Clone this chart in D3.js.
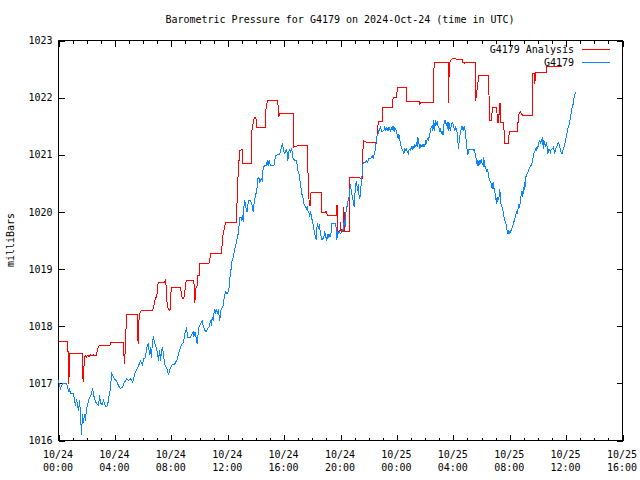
<!DOCTYPE html>
<html>
<head>
<meta charset="utf-8">
<script src="https://cdn.jsdelivr.net/npm/d3@7"></script>
<style>
  html, body { margin: 0; padding: 0; background: #fff; }
  svg { display: block; }
  text { font-family: "DejaVu Sans Mono", "Liberation Mono", monospace; font-size: 10px; fill: #000; }
</style>
</head>
<body>
<svg id="chart" width="640" height="480"></svg>
<script>
// ---------------- data ----------------
const titleText = "Barometric Pressure for G4179 on 2024-Oct-24 (time in UTC)";
const yLabel = "milliBars";
const seriesNames = ["G4179 Analysis", "G4179"];
const seriesColors = ["#ff0000", "#0a84ff"];
const yTicks = [1016, 1017, 1018, 1019, 1020, 1021, 1022, 1023];
const xMajorHours = [0, 4, 8, 12, 16, 20, 24, 28, 32, 36, 40];
const xDateLabels = ["10/24","10/24","10/24","10/24","10/24","10/24","10/25","10/25","10/25","10/25","10/25"];
const xTimeLabels = ["00:00","04:00","08:00","12:00","16:00","20:00","00:00","04:00","08:00","12:00","16:00"];

// hours since 2024-10-24 00:00 UTC, pressure in mb
const analysis = [
[0.00,1017.73],[0.67,1017.73],[0.68,1017.37],[0.72,1016.99],[0.78,1017.28],[0.80,1017.53],[1.68,1017.53],[1.70,1017.28],
[1.75,1017.02],[1.79,1017.22],[1.84,1017.43],[1.89,1017.49],[1.99,1017.46],[2.06,1017.49],[2.18,1017.47],[2.27,1017.50],
[2.39,1017.48],[2.50,1017.50],[2.69,1017.48],[2.73,1017.54],[2.76,1017.60],[2.88,1017.66],[3.64,1017.66],[3.69,1017.71],
[4.58,1017.71],[4.63,1017.55],[4.68,1017.34],[4.73,1017.57],[4.78,1017.92],[4.84,1018.20],[5.58,1018.20],[5.61,1017.92],
[5.65,1017.69],[5.70,1018.05],[5.73,1018.20],[5.85,1018.27],[6.64,1018.27],[6.75,1018.33],[6.82,1018.45],[6.93,1018.51],
[7.00,1018.57],[7.05,1018.74],[7.12,1018.77],[7.52,1018.77],[7.59,1018.80],[7.66,1018.65],[7.71,1018.33],[7.82,1018.30],
[7.89,1018.27],[7.94,1018.29],[7.99,1018.68],[8.66,1018.68],[8.71,1018.57],[8.78,1018.49],[8.89,1018.49],[8.94,1018.57],
[9.06,1018.80],[9.60,1018.80],[9.64,1018.57],[9.67,1018.40],[9.71,1018.57],[9.76,1018.68],[9.83,1018.71],[9.88,1018.89],
[9.97,1018.89],[10.02,1019.09],[10.66,1019.09],[10.73,1019.15],[10.78,1019.28],[11.56,1019.28],[11.61,1019.44],[11.68,1019.62],
[11.72,1019.65],[11.79,1019.76],[11.86,1019.82],[12.62,1019.82],[12.67,1020.23],[12.75,1020.72],[12.82,1020.96],[12.86,1021.08],
[13.03,1021.09],[13.05,1020.85],[13.66,1020.85],[13.69,1021.37],[13.83,1021.60],[13.90,1021.66],[14.00,1021.66],[14.04,1021.48],
[14.68,1021.48],[14.70,1021.77],[14.82,1021.95],[15.55,1021.95],[15.60,1021.72],[15.62,1021.66],[15.67,1021.72],[16.65,1021.72],
[16.67,1021.13],[16.96,1021.16],[17.65,1021.16],[17.69,1020.72],[17.74,1020.35],[17.79,1020.11],[17.84,1020.11],[17.88,1020.33],
[18.02,1020.34],[18.63,1020.34],[18.65,1019.99],[18.94,1019.99],[18.97,1020.02],[19.08,1019.94],[19.69,1019.94],[19.71,1020.11],
[19.78,1020.11],[19.82,1019.65],[19.96,1019.65],[20.00,1019.82],[20.05,1019.65],[20.19,1019.65],[20.24,1020.08],[20.29,1019.65],
[20.62,1019.65],[20.64,1020.61],[21.53,1020.59],[21.58,1020.90],[21.61,1021.25],[21.71,1021.23],[21.85,1021.22],[22.46,1021.22],
[22.51,1021.18],[22.58,1021.22],[22.60,1021.45],[22.70,1021.58],[22.96,1021.59],[23.00,1021.83],[23.66,1021.83],[23.68,1021.92],
[23.75,1022.00],[23.99,1022.00],[24.02,1022.17],[24.66,1022.17],[24.68,1021.93],[25.60,1021.93],[25.62,1021.89],[25.68,1021.91],
[26.57,1021.91],[26.59,1022.42],[26.67,1022.61],[27.63,1022.61],[27.65,1021.90],[27.69,1022.30],[27.72,1022.61],[27.91,1022.68],
[28.63,1022.67],[28.67,1022.62],[28.79,1022.60],[28.86,1022.62],[29.57,1022.62],[29.59,1021.95],[29.66,1022.10],[29.71,1022.18],
[29.80,1022.39],[30.52,1022.39],[30.54,1021.83],[30.60,1021.60],[30.73,1021.60],[30.76,1021.83],[31.08,1021.83],[31.13,1021.57],
[31.23,1021.57],[31.26,1021.89],[31.35,1021.89],[31.37,1021.57],[31.58,1021.57],[31.63,1021.19],[31.89,1021.19],[31.91,1021.28],
[31.99,1021.40],[32.55,1021.40],[32.62,1021.69],[32.76,1021.75],[32.91,1021.69],[33.60,1021.69],[33.62,1022.42],[33.74,1022.42],
[33.78,1022.24],[33.83,1022.44],[34.61,1022.44],[34.63,1022.55],[35.72,1022.55]
];

const observed = [
[0.00,1017.05],[0.07,1016.98],[0.14,1016.91],[0.21,1016.95],[0.28,1017.00],[0.56,1017.00],[0.63,1016.95],[0.71,1016.87],
[0.78,1016.90],[0.85,1016.82],[1.07,1016.82],[1.14,1016.70],[1.21,1016.61],[1.28,1016.73],[1.35,1016.61],[1.42,1016.52],
[1.49,1016.70],[1.56,1016.49],[1.63,1016.09],[1.70,1016.47],[1.77,1016.30],[1.84,1016.47],[1.91,1016.35],[1.99,1016.56],
[2.06,1016.61],[2.13,1016.70],[2.20,1016.75],[2.27,1016.77],[2.34,1016.82],[2.41,1016.91],[2.48,1016.82],[2.55,1016.73],
[2.69,1016.65],[2.84,1016.61],[2.91,1016.79],[2.98,1016.65],[3.12,1016.63],[3.19,1016.70],[3.34,1016.59],[3.48,1016.61],
[3.55,1016.73],[3.62,1016.84],[3.69,1016.91],[3.76,1017.19],[3.83,1017.14],[3.90,1017.12],[3.97,1017.07],[4.11,1017.05],
[4.25,1016.96],[4.39,1016.91],[4.54,1016.93],[4.61,1016.98],[4.68,1017.02],[4.83,1017.08],[4.97,1017.05],[5.11,1017.08],
[5.25,1017.02],[5.32,1017.05],[5.39,1017.17],[5.53,1017.23],[5.67,1017.30],[5.81,1017.40],[5.96,1017.33],[6.03,1017.43],
[6.17,1017.45],[6.24,1017.61],[6.38,1017.71],[6.45,1017.49],[6.52,1017.63],[6.59,1017.45],[6.67,1017.75],[6.74,1017.80],
[6.81,1017.71],[6.88,1017.66],[7.02,1017.54],[7.09,1017.40],[7.17,1017.58],[7.24,1017.40],[7.31,1017.58],[7.38,1017.63],
[7.45,1017.49],[7.52,1017.35],[7.66,1017.26],[7.73,1017.23],[7.80,1017.14],[7.87,1017.23],[7.94,1017.26],[8.08,1017.33],
[8.22,1017.33],[8.29,1017.36],[8.44,1017.43],[8.51,1017.52],[8.59,1017.59],[8.73,1017.68],[8.87,1017.71],[8.94,1017.84],
[9.01,1017.92],[9.08,1017.96],[9.17,1017.81],[9.36,1017.81],[9.55,1017.90],[9.60,1017.81],[9.67,1017.90],[9.76,1017.81],
[9.83,1017.69],[9.88,1017.81],[9.95,1017.98],[10.02,1018.01],[10.12,1018.07],[10.19,1018.10],[10.26,1018.01],[10.30,1017.98],
[10.43,1017.90],[10.50,1017.90],[10.55,1017.95],[10.66,1017.98],[10.73,1018.04],[10.78,1018.10],[10.85,1018.01],[10.90,1018.16],
[10.97,1018.10],[11.02,1018.22],[11.09,1018.30],[11.14,1018.22],[11.21,1018.30],[11.26,1018.22],[11.33,1018.27],[11.37,1018.22],
[11.44,1018.10],[11.49,1018.25],[11.56,1018.30],[11.61,1018.33],[11.68,1018.36],[11.72,1018.45],[11.79,1018.54],[11.86,1018.60],
[11.96,1018.57],[12.03,1018.60],[12.10,1018.68],[12.14,1018.80],[12.19,1018.94],[12.24,1019.00],[12.31,1019.15],[12.39,1019.21],
[12.44,1019.27],[12.51,1019.35],[12.56,1019.41],[12.63,1019.47],[12.68,1019.56],[12.75,1019.62],[12.79,1019.73],[12.82,1019.79],
[12.86,1019.90],[12.96,1019.90],[13.00,1019.85],[13.05,1019.94],[13.10,1019.82],[13.14,1020.05],[13.19,1020.20],[13.26,1020.14],
[13.31,1020.05],[13.38,1020.00],[13.42,1020.11],[13.50,1020.20],[13.62,1020.20],[13.73,1020.11],[13.81,1020.00],[13.85,1020.11],
[13.90,1020.20],[13.97,1020.29],[14.04,1020.35],[14.09,1020.43],[14.16,1020.61],[14.24,1020.58],[14.28,1020.52],[14.37,1020.58],
[14.45,1020.55],[14.52,1020.78],[14.63,1020.81],[14.75,1020.81],[14.80,1020.90],[14.87,1020.81],[14.94,1020.90],[15.04,1020.81],
[15.27,1020.81],[15.34,1020.90],[15.41,1020.99],[15.51,1021.00],[15.65,1021.00],[15.74,1021.05],[15.81,1021.13],[15.88,1021.21],
[15.93,1021.13],[15.97,1021.08],[16.02,1021.02],[16.10,1021.05],[16.17,1021.10],[16.22,1021.02],[16.27,1020.90],[16.32,1021.02],
[16.37,1021.10],[16.44,1021.05],[16.51,1021.10],[16.58,1021.05],[16.65,1020.91],[16.72,1020.91],[16.81,1020.90],[16.88,1020.90],
[16.93,1020.81],[16.97,1020.72],[17.04,1020.70],[17.09,1020.61],[17.16,1020.49],[17.21,1020.40],[17.28,1020.29],[17.35,1020.23],
[17.40,1020.14],[17.47,1020.11],[17.52,1020.08],[17.59,1020.05],[17.64,1020.11],[17.68,1020.02],[17.75,1020.00],[17.82,1019.92],
[17.87,1019.99],[17.94,1019.94],[17.99,1019.85],[18.07,1019.76],[18.11,1019.70],[18.16,1019.62],[18.23,1019.56],[18.28,1019.51],
[18.32,1019.70],[18.37,1019.80],[18.42,1019.73],[18.46,1019.70],[18.51,1019.79],[18.56,1019.65],[18.63,1019.56],[18.70,1019.51],
[18.82,1019.56],[18.87,1019.67],[18.94,1019.59],[19.01,1019.51],[19.06,1019.53],[19.10,1019.62],[19.17,1019.56],[19.24,1019.60],
[19.29,1019.56],[19.34,1019.65],[19.38,1019.80],[19.64,1019.80],[19.69,1019.73],[19.71,1019.51],[19.76,1019.56],[19.80,1019.65],
[19.88,1019.62],[19.93,1019.65],[20.00,1019.62],[20.12,1019.65],[20.19,1019.70],[20.24,1019.79],[20.29,1019.85],[20.34,1019.73],
[20.38,1019.97],[20.43,1020.11],[20.48,1020.08],[20.55,1020.23],[20.62,1020.26],[20.66,1020.37],[20.71,1020.49],[20.76,1020.37],
[20.80,1020.32],[20.85,1020.23],[20.90,1020.20],[20.97,1020.08],[21.01,1020.23],[21.06,1020.49],[21.13,1020.52],[21.18,1020.43],
[21.22,1020.37],[21.27,1020.49],[21.32,1020.26],[21.37,1020.23],[21.42,1020.37],[21.46,1020.46],[21.51,1020.58],[21.56,1020.75],
[21.61,1020.86],[21.65,1020.87],[21.77,1020.87],[21.85,1020.90],[21.92,1020.87],[22.01,1020.94],[22.13,1020.93],[22.25,1020.99],
[22.32,1020.93],[22.36,1020.99],[22.43,1021.02],[22.48,1021.13],[22.55,1021.28],[22.60,1021.34],[22.67,1021.37],[22.72,1021.42],
[22.79,1021.45],[22.84,1021.51],[22.89,1021.42],[22.96,1021.41],[23.07,1021.42],[23.14,1021.48],[23.21,1021.42],[23.26,1021.49],
[23.31,1021.42],[23.38,1021.48],[23.42,1021.41],[23.49,1021.48],[23.54,1021.42],[23.61,1021.45],[23.66,1021.49],[23.74,1021.42],
[23.78,1021.51],[23.85,1021.42],[23.90,1021.45],[23.98,1021.40],[24.02,1021.34],[24.09,1021.28],[24.14,1021.37],[24.21,1021.25],
[24.26,1021.19],[24.31,1021.13],[24.38,1021.10],[24.45,1021.05],[24.49,1021.02],[24.56,1021.10],[24.61,1021.08],[24.68,1021.10],
[24.73,1021.05],[24.80,1021.02],[24.84,1021.08],[24.91,1021.10],[24.96,1021.08],[25.03,1021.13],[25.08,1021.10],[25.15,1021.16],
[25.20,1021.10],[25.27,1021.19],[25.32,1021.13],[25.39,1021.22],[25.44,1021.13],[25.48,1021.31],[25.55,1021.22],[25.63,1021.10],
[25.68,1021.19],[25.75,1021.13],[25.80,1021.19],[25.87,1021.13],[25.91,1021.19],[25.98,1021.13],[26.03,1021.25],[26.10,1021.19],
[26.15,1021.28],[26.22,1021.25],[26.26,1021.28],[26.33,1021.37],[26.38,1021.40],[26.43,1021.48],[26.50,1021.51],[26.55,1021.42],
[26.62,1021.60],[26.67,1021.42],[26.74,1021.60],[26.81,1021.54],[26.86,1021.57],[26.90,1021.51],[26.97,1021.48],[27.04,1021.42],
[27.09,1021.45],[27.16,1021.37],[27.21,1021.42],[27.28,1021.34],[27.32,1021.48],[27.37,1021.60],[27.44,1021.60],[27.51,1021.51],
[27.57,1021.57],[27.64,1021.42],[27.69,1021.57],[27.75,1021.48],[27.80,1021.42],[27.85,1021.51],[27.92,1021.57],[27.99,1021.54],
[28.04,1021.48],[28.11,1021.42],[28.16,1021.48],[28.23,1021.45],[28.28,1021.37],[28.32,1021.25],[28.37,1021.10],[28.42,1021.25],
[28.46,1021.31],[28.51,1021.42],[28.58,1021.45],[28.63,1021.51],[28.70,1021.42],[28.75,1021.48],[28.79,1021.51],[28.84,1021.42],
[28.88,1021.31],[28.93,1021.22],[28.98,1021.08],[29.03,1020.99],[29.10,1021.10],[29.22,1021.10],[29.34,1021.10],[29.41,1021.08],
[29.46,1021.10],[29.53,1021.05],[29.58,1020.99],[29.65,1020.87],[29.70,1020.81],[29.74,1020.90],[29.81,1020.81],[29.88,1020.90],
[29.93,1020.84],[29.98,1020.93],[30.05,1020.84],[30.12,1020.81],[30.16,1020.96],[30.21,1020.81],[30.28,1020.78],[30.35,1020.72],
[30.40,1020.75],[30.47,1020.70],[30.52,1020.61],[30.59,1020.55],[30.64,1020.52],[30.71,1020.49],[30.76,1020.40],[30.83,1020.52],
[30.87,1020.43],[30.94,1020.35],[30.99,1020.29],[31.06,1020.14],[31.11,1020.26],[31.15,1020.20],[31.23,1020.23],[31.30,1020.40],
[31.35,1020.20],[31.40,1020.11],[31.47,1020.08],[31.54,1020.00],[31.58,1019.94],[31.63,1019.85],[31.71,1019.82],[31.78,1019.76],
[31.82,1019.65],[31.89,1019.62],[31.94,1019.67],[32.01,1019.62],[32.06,1019.65],[32.13,1019.70],[32.18,1019.73],[32.25,1019.79],
[32.29,1019.82],[32.36,1019.88],[32.43,1019.94],[32.48,1020.00],[32.53,1019.97],[32.57,1020.02],[32.64,1020.11],[32.71,1020.08],
[32.76,1020.20],[32.81,1020.29],[32.86,1020.37],[32.91,1020.26],[32.96,1020.43],[33.00,1020.32],[33.05,1020.52],[33.10,1020.43],
[33.13,1020.61],[33.20,1020.64],[33.25,1020.67],[33.32,1020.72],[33.36,1020.75],[33.43,1020.78],[33.48,1020.81],[33.55,1020.81],
[33.60,1020.87],[33.67,1020.96],[33.71,1021.02],[33.78,1021.05],[33.85,1021.10],[33.90,1021.08],[33.95,1021.16],[33.99,1021.10],
[34.06,1021.22],[34.13,1021.25],[34.18,1021.19],[34.25,1021.28],[34.30,1021.22],[34.35,1021.31],[34.37,1021.10],[34.42,1021.25],
[34.47,1021.19],[34.54,1021.16],[34.61,1021.22],[34.66,1021.13],[34.70,1021.02],[34.77,1021.10],[34.84,1021.10],[34.89,1021.02],
[34.94,1021.10],[35.01,1021.10],[35.09,1021.13],[35.13,1021.10],[35.20,1021.02],[35.25,1021.10],[35.32,1021.13],[35.37,1021.16],
[35.44,1021.22],[35.49,1021.19],[35.56,1021.13],[35.60,1021.08],[35.68,1021.02],[35.72,1021.02],[35.77,1021.08],[35.84,1021.13],
[35.91,1021.19],[35.96,1021.25],[36.03,1021.34],[36.08,1021.40],[36.12,1021.45],[36.19,1021.51],[36.26,1021.57],[36.31,1021.66],
[36.36,1021.72],[36.43,1021.83],[36.50,1021.89],[36.54,1021.98],[36.61,1022.04],[36.66,1022.10]
];

// ---------------- drawing ----------------
const svg = d3.select("#chart");
const L = 58, R = 622, T = 40, B = 440;

const x = d3.scaleLinear().domain([0, 40]).range([L, R]);
const y = d3.scaleLinear().domain([1016, 1023]).range([B, T]);

const g = svg.append("g").attr("transform", "translate(0.5,0.5)");

// title
svg.append("text")
  .attr("x", 340).attr("y", 23)
  .attr("text-anchor", "middle")
  .text(titleText);

// y label
svg.append("text")
  .attr("transform", "translate(14,240) rotate(-90)")
  .attr("text-anchor", "middle")
  .text(yLabel);

const minorHours = d3.range(0, 41).filter(h => h % 4 !== 0);

function styleAxis(sel) {
  sel.select(".domain").remove();
  sel.selectAll("line").attr("stroke", "#000").attr("shape-rendering", "crispEdges");
  sel.selectAll("text").style("font-family", '"DejaVu Sans Mono", monospace').style("font-size", "10px");
}

// bottom major ticks (labels added below)
g.append("g").attr("transform", `translate(0,${B})`)
  .call(d3.axisBottom(x).tickValues(xMajorHours).tickSize(-6).tickFormat(""))
  .call(styleAxis);
// bottom minor
g.append("g").attr("transform", `translate(0,${B})`)
  .call(d3.axisBottom(x).tickValues(minorHours).tickSize(-3).tickFormat(""))
  .call(styleAxis);
// top major & minor
g.append("g").attr("transform", `translate(0,${T})`)
  .call(d3.axisTop(x).tickValues(xMajorHours).tickSize(-6).tickFormat(""))
  .call(styleAxis);
g.append("g").attr("transform", `translate(0,${T})`)
  .call(d3.axisTop(x).tickValues(minorHours).tickSize(-3).tickFormat(""))
  .call(styleAxis);
// left
g.append("g").attr("transform", `translate(${L},0)`)
  .call(d3.axisLeft(y).tickValues(yTicks).tickSize(-6).tickPadding(6).tickFormat(d3.format("d")))
  .call(styleAxis)
  .selectAll("text").attr("fill", "#000");
// right
g.append("g").attr("transform", `translate(${R},0)`)
  .call(d3.axisRight(y).tickValues(yTicks).tickSize(-6).tickFormat(""))
  .call(styleAxis);

// x tick labels (two lines)
const xl = svg.append("g");
xMajorHours.forEach((h, i) => {
  const t = xl.append("text").attr("text-anchor", "middle");
  t.append("tspan").attr("x", x(h)).attr("y", 458).text(xDateLabels[i]);
  t.append("tspan").attr("x", x(h)).attr("y", 471).text(xTimeLabels[i]);
});

// frame
g.append("rect")
  .attr("x", L).attr("y", T)
  .attr("width", R - L).attr("height", B - T)
  .attr("fill", "none").attr("stroke", "#000")
  .attr("shape-rendering", "crispEdges");

// lines
const line = d3.line().x(d => x(d[0])).y(d => y(d[1]));
g.append("path").datum(analysis)
  .attr("d", line).attr("fill", "none")
  .attr("stroke", seriesColors[0]).attr("stroke-width", 1)
  .attr("shape-rendering", "crispEdges");
g.append("path").datum(observed)
  .attr("d", line).attr("fill", "none")
  .attr("stroke", seriesColors[1]).attr("stroke-width", 1)
  .attr("shape-rendering", "crispEdges");

// legend
const legend = svg.append("g");
seriesNames.forEach((name, i) => {
  const ly = 49 + i * 13;
  legend.append("text")
    .attr("x", 574).attr("y", ly + 4)
    .attr("text-anchor", "end")
    .text(name);
  legend.append("line")
    .attr("x1", 582).attr("x2", 610)
    .attr("y1", ly + 0.5).attr("y2", ly + 0.5)
    .attr("stroke", seriesColors[i]).attr("stroke-width", 1)
    .attr("shape-rendering", "crispEdges");
});
</script>
</body>
</html>
